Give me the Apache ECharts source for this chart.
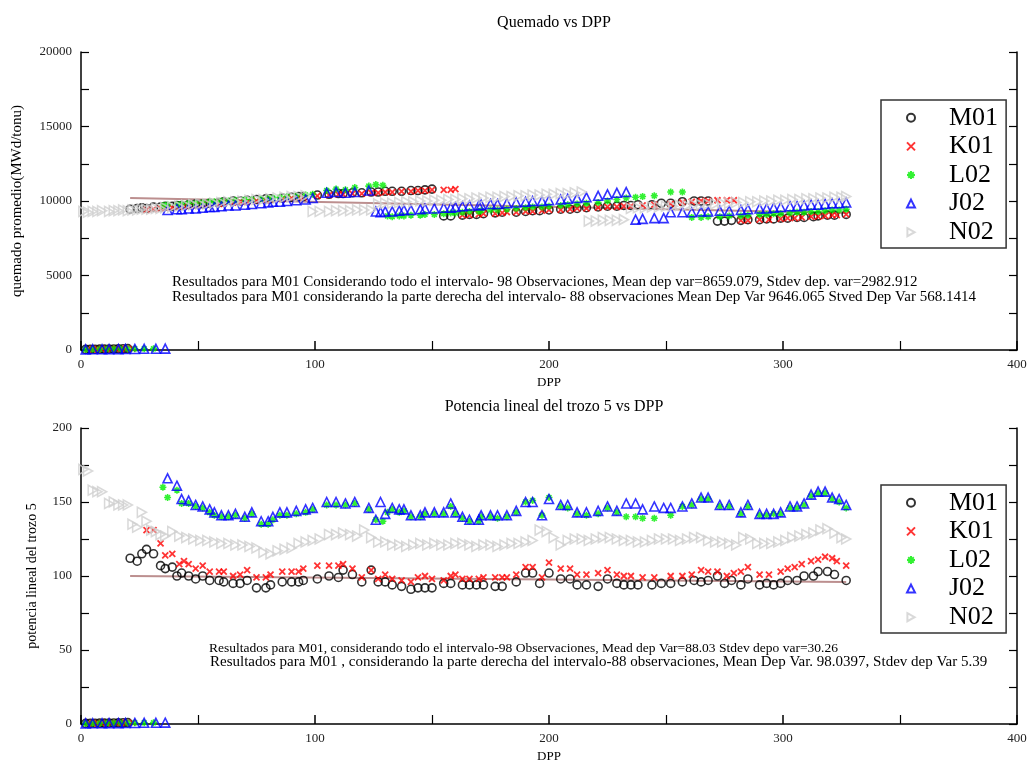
<!DOCTYPE html>
<html><head><meta charset="utf-8">
<script src="https://cdn.jsdelivr.net/npm/echarts@6/dist/echarts.min.js"></script>
<style>html,body{margin:0;padding:0;background:#fff}#c{width:1030px;height:765px}</style>
</head><body><div id="c"></div>
<script>
const seriesNames = ['M01','K01','L02','J02','N02'];
const xTicks = [0,100,200,300,400];

const dppM01 = [21,24,26,28,31,34,36,39,41,43,46,49,52,55,59,61,65,68,71,75,79,81,86,90,93,95,101,106,110,112,116,120,124,127,130,133,137,141,144,147,150,155,158,163,166,169,172,177,180,186,190,193,196,200,205,209,212,216,221,225,229,232,235,238,244,248,252,257,262,265,268,272,275,278,282,285,290,293,296,299,302,306,309,313,315,319,322,327];
const quemM01 = [9450,9500,9550,9500,9600,9600,9650,9650,9700,9700,9750,9800,9800,9850,9900,9950,10000,10000,10050,10100,10150,10150,10200,10250,10300,10300,10400,10450,10500,10500,10550,10550,10600,10600,10650,10650,10650,10700,10700,10750,10800,9000,9000,9050,9100,9100,9150,9200,9250,9250,9300,9350,9350,9400,9450,9450,9500,9550,9600,9650,9650,9700,9700,9750,9750,9850,9850,9950,10000,10000,10000,8650,8650,8700,8700,8750,8750,8800,8800,8850,8850,8900,8900,8950,9000,9050,9050,9100];
const potM01 = [112,110,115,118,115,107,105,106,100,102,100,98,100,97,97,96,95,95,97,92,92,94,96,96,96,97,98,100,99,104,101,96,104,96,96,94,93,91,92,92,92,95,95,94,94,94,94,93,93,96,102,102,95,102,98,98,94,94,93,98,95,94,94,94,94,95,95,96,97,96,97,100,95,97,94,98,94,95,94,95,97,97,100,100,103,103,101,97];

const dppK01 = [28,31,34,36,39,42,44,46,49,52,55,59,61,65,68,71,75,79,81,86,90,93,95,101,106,110,112,116,120,124,127,130,133,137,141,144,147,150,155,158,160,163,166,170,172,177,180,182,186,190,193,197,200,205,209,212,216,221,225,229,232,235,240,245,252,257,261,265,268,272,276,279,282,285,290,294,299,302,305,308,312,315,318,321,323,327];
const quemK01 = [9400,9450,9500,9550,9550,9600,9650,9650,9700,9750,9800,9800,9850,9900,9950,9950,10000,10050,10100,10150,10200,10250,10250,10350,10400,10450,10450,10500,10500,10550,10550,10600,10600,10650,10650,10700,10700,10750,10750,10750,10800,9050,9050,9100,9150,9150,9200,9250,9250,9300,9300,9350,9400,9400,9450,9500,9500,9550,9600,9600,9650,9650,9700,9750,9800,9900,9950,10000,10000,10050,10050,10050,8700,8700,8750,8750,8800,8850,8850,8900,8950,8950,9000,9050,9050,9100];
const potK01 = [131,131,122,114,115,108,110,108,105,107,103,103,103,100,101,104,99,99,101,103,103,103,105,107,107,107,108,105,99,104,98,101,98,97,96,99,100,98,97,100,101,98,98,98,99,99,99,99,101,106,106,99,109,105,105,101,101,102,104,101,100,100,99,99,100,100,101,104,103,103,100,102,103,106,101,101,103,105,106,108,110,111,113,112,110,107];

const dppL02 = [35,37,41,43,46,49,52,55,57,60,63,66,70,73,77,80,82,85,88,92,96,99,105,109,113,117,123,126,129,131,133,136,138,141,145,147,151,155,158,160,163,166,170,171,175,178,182,186,190,193,197,200,205,208,212,216,221,225,229,233,237,240,245,252,257,261,265,268,273,277,282,285,290,293,296,299,303,306,309,312,315,318,321,324,327];
const quemL02 = [9700,9750,9750,9800,9850,9850,9900,9950,9950,10000,10000,10050,10100,10100,10150,10200,10200,10250,10300,10350,10400,10450,10700,10800,10750,10900,11000,11100,11050,9000,8950,9000,9000,9050,9050,9100,9100,9150,9200,9200,9250,9300,9300,9350,9400,9400,9450,9500,9550,9600,9600,9650,9700,9750,9800,9850,9900,10000,10100,10200,10250,10300,10350,10600,10600,8900,8900,8950,8950,9000,9000,9050,9100,9100,9150,9150,9200,9250,9250,9300,9300,9350,9400,9400,9450];
const potL02 = [160,153,158,149,149,147,146,143,141,140,140,141,139,142,135,135,138,141,141,142,143,145,148,148,148,149,145,138,137,143,145,143,144,140,140,142,142,142,147,142,139,137,137,140,140,139,140,143,150,151,141,153,147,146,142,141,142,146,143,140,140,139,139,141,147,148,152,152,147,147,142,147,141,141,142,142,146,146,148,154,156,156,152,150,146];

const dppJ02 = [37,41,43,46,49,52,55,57,60,63,66,70,73,77,80,82,85,88,92,96,99,105,109,113,117,123,126,128,130,133,136,138,141,145,147,151,155,158,160,163,166,170,171,175,178,182,186,190,193,197,200,205,208,212,216,221,225,229,233,237,240,245,249,252,257,261,265,268,273,277,282,285,290,293,296,299,303,306,309,312,315,318,321,324,327];
const quemJ02 = [9400,9450,9450,9500,9500,9550,9600,9600,9650,9700,9700,9750,9800,9850,9900,9950,9950,10000,10050,10100,10200,10550,10600,10550,10600,10700,9300,9250,9300,9300,9350,9400,9400,9450,9500,9500,9550,9550,9600,9650,9700,9700,9750,9800,9800,9850,9900,9950,10000,10000,10050,10100,10150,10200,10250,10350,10450,10550,10600,8750,8800,8850,8850,9250,9250,9250,9300,9300,9350,9350,9400,9450,9500,9500,9550,9600,9650,9650,9700,9750,9750,9800,9850,9850,9900];
const potJ02 = [166,161,152,151,148,147,145,143,141,141,142,140,143,137,137,140,143,143,144,145,146,150,150,149,150,146,138,150,142,146,145,145,141,141,143,143,143,149,143,140,138,138,141,141,141,141,144,150,150,141,152,148,148,143,143,144,147,144,149,149,145,147,146,146,147,149,153,153,148,148,143,148,142,142,142,143,147,147,149,155,157,157,153,152,148];

const dppN02 = [1,3,5,7,9,12,14,16,18,20,22,24,26,28,30,32,34,36,39,42,45,48,51,54,57,60,63,66,69,72,75,78,81,84,87,90,93,96,99,102,106,109,112,115,118,121,124,127,130,133,136,139,142,145,148,151,154,157,160,163,166,169,172,175,178,181,184,187,190,193,196,199,202,205,208,211,214,217,220,223,226,229,232,235,238,241,244,247,250,253,256,259,262,265,268,271,274,277,280,283,286,289,292,295,298,301,304,307,310,313,316,319,322,325,327];
const quemN02 = [9300,9250,9300,9300,9350,9300,9350,9350,9400,9350,9400,9400,9450,9450,9450,9500,9500,9550,9600,9650,9700,9750,9800,9800,9850,9900,9950,9950,10000,10050,10100,10100,10150,10200,10250,10300,10300,10350,9300,9300,9300,9350,9350,9350,9400,9400,9400,9800,9850,9850,9900,9950,9950,10000,10000,10050,10050,10100,10100,10150,10150,10200,10200,10250,10250,10300,10300,10350,10350,10400,10400,10450,10450,10500,10500,10550,10600,8650,8650,8700,8700,8700,8750,9500,9550,9550,9600,9600,9650,9650,9700,9700,9750,9750,9800,9800,9850,9850,9900,9900,9950,9950,10000,10000,10050,10050,10100,10100,10150,10150,10200,10200,10250,10250,10300];
const potN02 = [172,171,158,157,157,149,150,148,148,148,135,133,143,137,131,130,128,127,130,127,126,125,124,124,123,122,122,121,121,120,119,116,115,117,118,119,122,123,124,125,128,128,129,128,127,131,126,123,123,121,121,120,121,122,121,122,121,121,122,122,121,120,121,121,120,121,122,122,123,124,131,130,126,121,124,125,125,124,125,126,126,125,124,124,123,123,124,125,125,125,124,125,126,126,124,123,123,122,121,126,125,122,122,122,123,124,126,127,128,129,131,132,129,126,125];

// observations near zero at the start of the interval
const zeroDppM01 = [2,4,6,8,10,12,14,16,18,20];
const zeroDppK01 = [3,5,7,9,11,13,15,17,19,22];
const zeroDppL02 = [2,5,8,11,14,17,20,23,27,31];
const zeroDppJ02 = [2,5,9,12,16,19,23,27,32,36];
const zeroQuem = [40,50,50,60,60,70,70,80,80,90];
const zeroPot = [0.4,0.5,0.5,0.6,0.6,0.7,0.7,0.8,0.8,0.9];

// fitted lines
const lineDpp = [21,327];
const lineQuem = [10200,9200];
const linePot = [100,96];

const FONT = '"Liberation Serif", "DejaVu Serif", serif';
const symX = 'path://M0,0L10,10M10,0L0,10';
const symStar = 'path://M5,0L5,10M0,5L10,5M1.5,1.5L8.5,8.5M8.5,1.5L1.5,8.5';
const symRTri = 'path://M0,0L9,5L0,10Z';

const styles = {
  M01:{symbol:'circle', symbolSize:8, itemStyle:{color:'rgba(0,0,0,0)', borderColor:'#000', borderWidth:1.6}},
  K01:{symbol:symX, symbolSize:6, itemStyle:{color:'rgba(0,0,0,0)', borderColor:'#ff0000', borderWidth:1.8}},
  L02:{symbol:symStar, symbolSize:7, itemStyle:{color:'rgba(0,0,0,0)', borderColor:'#00ee00', borderWidth:1.6}},
  J02:{symbol:'triangle', symbolSize:9, itemStyle:{color:'rgba(0,0,0,0)', borderColor:'#0000ff', borderWidth:1.6}},
  N02:{symbol:symRTri, symbolSize:[9,10], itemStyle:{color:'rgba(0,0,0,0)', borderColor:'#cfcfcf', borderWidth:1.6}}
};

function pairs(xs, ys){ return xs.map((x,i)=>[x, ys[i]]); }

const topData = {
  M01: pairs(zeroDppM01, zeroQuem).concat(pairs(dppM01, quemM01)),
  K01: pairs(zeroDppK01, zeroQuem).concat(pairs(dppK01, quemK01)),
  L02: pairs(zeroDppL02, zeroQuem).concat(pairs(dppL02, quemL02)),
  J02: pairs(zeroDppJ02, zeroQuem).concat(pairs(dppJ02, quemJ02)),
  N02: pairs(dppN02, quemN02)
};
const botData = {
  M01: pairs(zeroDppM01, zeroPot).concat(pairs(dppM01, potM01)),
  K01: pairs(zeroDppK01, zeroPot).concat(pairs(dppK01, potK01)),
  L02: pairs(zeroDppL02, zeroPot).concat(pairs(dppL02, potL02)),
  J02: pairs(zeroDppJ02, zeroPot).concat(pairs(dppJ02, potJ02)),
  N02: pairs(dppN02, potN02)
};

const series = [];
[topData, botData].forEach((d, gi) => {
  series.push({type:'line', xAxisIndex: gi, yAxisIndex: gi*2, data: pairs(lineDpp, gi===0?lineQuem:linePot),
    showSymbol:false, lineStyle:{color:'#bc8f8f', width:2}, silent:true, z:1, name:'fit'+gi});
  seriesNames.forEach(n => {
    series.push(Object.assign({type:'scatter', name:n, xAxisIndex: gi, yAxisIndex: gi*2, data: d[n], z:2}, styles[n]));
  });
});

function xAxis(gi){
  return {type:'value', gridIndex:gi, min:0, max:400, interval:100,
    name:'DPP', nameLocation:'middle', nameGap:26, nameTextStyle:{fontFamily:FONT, fontSize:13, color:'#000'},
    axisLine:{lineStyle:{color:'#000', width:1.5}}, axisTick:{inside:true, length:9, lineStyle:{color:'#000', width:1.5}},
    minorTick:{show:true, splitNumber:2, length:9, lineStyle:{color:'#000', width:1.2}},
    axisLabel:{fontFamily:FONT, fontSize:13, color:'#222', margin:8}, splitLine:{show:false}};
}
function yAxes(gi, max, interval, name, gap, nameSize){
  return [{type:'value', gridIndex:gi, min:0, max:max, interval:interval, position:'left',
    name:name, nameLocation:'middle', nameGap:gap, nameTextStyle:{fontFamily:FONT, fontSize:nameSize, color:'#000'},
    axisLine:{show:true, lineStyle:{color:'#000', width:1.5}}, axisTick:{show:true, inside:true, length:8, lineStyle:{color:'#000', width:1.2}},
    minorTick:{show:true, splitNumber:2, length:8, lineStyle:{color:'#000', width:1.2}},
    axisLabel:{fontFamily:FONT, fontSize:13, color:'#222', margin:9, formatter: v => String(v)}, splitLine:{show:false}},
   {type:'value', gridIndex:gi, min:0, max:max, interval:interval, position:'right',
    axisLine:{show:true, lineStyle:{color:'#000', width:1.5}}, axisTick:{show:true, inside:true, length:8, lineStyle:{color:'#000', width:1.2}},
    minorTick:{show:true, splitNumber:2, length:8, lineStyle:{color:'#000', width:1.2}},
    axisLabel:{show:false}, splitLine:{show:false}}];
}
function legend(top){
  return {data:seriesNames, orient:'vertical', left:881, top:top,
    backgroundColor:'#fff', borderColor:'#333', borderWidth:1.5, padding:[4,8,2,25],
    itemWidth:8, itemHeight:8, itemGap:1,
    textStyle:{fontFamily:FONT, fontSize:26, lineHeight:27.6, color:'#000', padding:[0,0,0,29]}, selectedMode:false};
}

const chart = echarts.init(document.getElementById('c'), null, {renderer:'canvas'});
chart.setOption({
  animation:false,
  backgroundColor:'#fff',
  title:[
    {text:'Quemado vs DPP', left:549, top:10, textAlign:'center', textStyle:{fontFamily:FONT, fontSize:16, fontWeight:'normal', color:'#000'}},
    {text:'Potencia lineal del trozo 5 vs DPP', left:549, top:394, textAlign:'center', textStyle:{fontFamily:FONT, fontSize:16, fontWeight:'normal', color:'#000'}}
  ],
  grid:[{left:81, right:13, top:52, height:298}, {left:81, right:13, top:428, height:296}],
  xAxis:[xAxis(0), xAxis(1)],
  yAxis:[].concat(yAxes(0, 20000, 5000, 'quemado promedio(MWd/tonu)', 56, 15), yAxes(1, 200, 50, 'potencia lineal del trozo 5', 42, 14)),
  legend:[legend(100), legend(485)],
  series:series,
  graphic:[
    {type:'text', left:172, top:275, style:{text:'Resultados para M01 Considerando todo el intervalo- 98 Observaciones, Mean dep var=8659.079, Stdev dep. var=2982.912', font:'15px '+FONT, fill:'#000'}},
    {type:'text', left:172, top:290, style:{text:'Resultados para M01 considerando la parte derecha del intervalo- 88 observaciones Mean Dep Var 9646.065 Stved Dep Var 568.1414', font:'15px '+FONT, fill:'#000'}},
    {type:'text', left:209, top:641, style:{text:'Resultados para M01, considerando todo el intervalo-98 Observaciones, Mead dep Var=88.03 Stdev depo var=30.26', font:'13.5px '+FONT, fill:'#000'}},
    {type:'text', left:210, top:655, style:{text:'Resultados para M01 , considerando la parte derecha del intervalo-88 observaciones, Mean Dep Var. 98.0397, Stdev dep Var 5.39', font:'15px '+FONT, fill:'#000'}}
  ]
});
</script></body></html>
